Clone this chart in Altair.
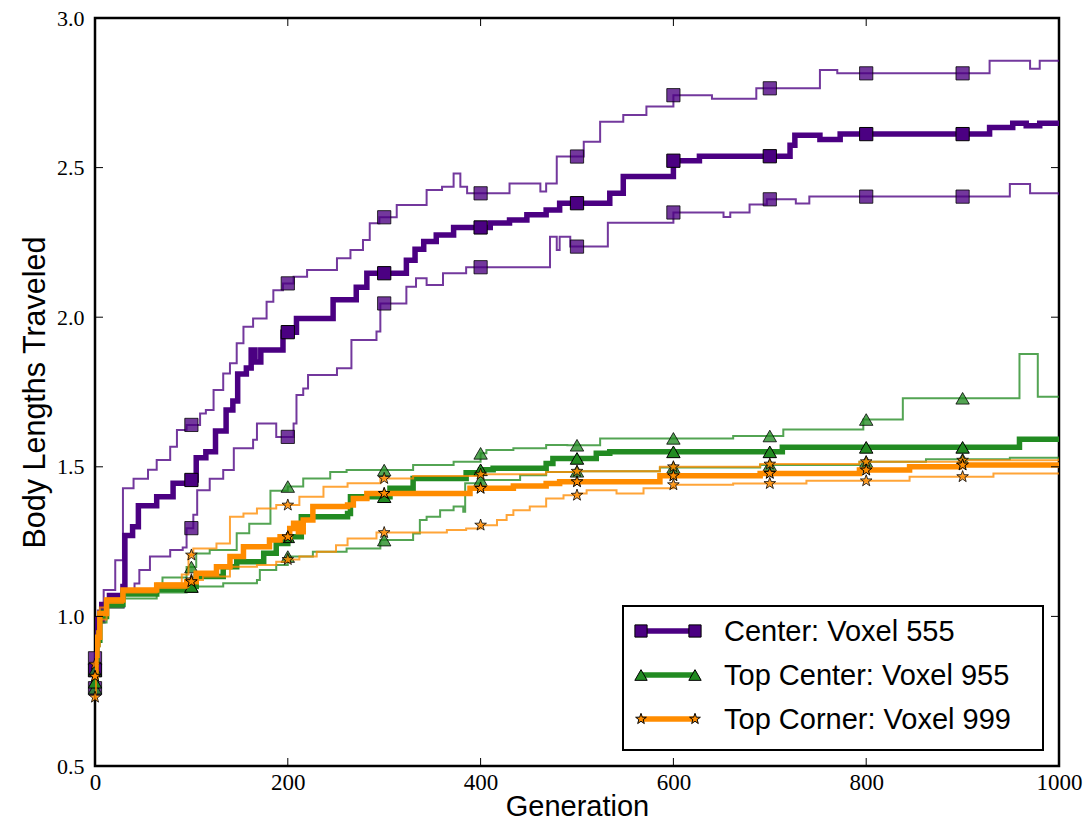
import altair as alt
import pandas as pd

# ---------------- data ----------------
X_TICKS = [0, 200, 400, 600, 800, 1000]
Y_TICKS = [0.5, 1.0, 1.5, 2.0, 2.5, 3.0]
MARK_GENS = [0, 100, 200, 300, 400, 500, 600, 700, 800, 900]

LABELS = ["Center: Voxel 555", "Top Center: Voxel 955", "Top Corner: Voxel 999"]

# Center: Voxel 555 (purple)
pm_gen = [0, 1, 3, 7, 15, 29, 31, 39, 45, 64, 81, 100, 105, 115, 125, 136, 143, 148, 157, 162,
          166, 172, 195, 209, 247, 271, 282, 323, 332, 341, 354, 372, 410, 430, 448, 468, 482,
          534, 548, 600, 627, 721, 726, 752, 773, 928, 952, 966, 980, 1000]
pm_val = [0.82, 0.93, 0.99, 1.04, 1.07, 1.10, 1.27, 1.30, 1.37, 1.40, 1.445, 1.456, 1.53, 1.55,
          1.62, 1.69, 1.72, 1.81, 1.83, 1.89, 1.85, 1.89, 1.95, 1.996, 2.058, 2.10, 2.147, 2.19,
          2.227, 2.253, 2.275, 2.30, 2.315, 2.325, 2.342, 2.358, 2.381, 2.414, 2.47, 2.523,
          2.538, 2.575, 2.608, 2.594, 2.612, 2.634, 2.648, 2.64, 2.648, 2.648]
pu_gen = [0, 1, 3, 9, 21, 29, 40, 55, 64, 78, 85, 95, 109, 115, 123, 133, 140, 147, 154, 164,
          178, 185, 195, 206, 220, 251, 265, 278, 285, 295, 313, 344, 360, 372, 379, 386, 430,
          462, 468, 479, 507, 524, 548, 572, 600, 640, 686, 752, 770, 928, 970, 980, 1000]
pu_val = [0.86, 0.95, 1.02, 1.088, 1.188, 1.428, 1.46, 1.49, 1.523, 1.567, 1.623, 1.64, 1.678,
          1.69, 1.757, 1.812, 1.846, 1.913, 1.968, 1.996, 2.052, 2.09, 2.113, 2.135, 2.158,
          2.197, 2.225, 2.258, 2.314, 2.334, 2.375, 2.425, 2.436, 2.48, 2.436, 2.414, 2.447,
          2.42, 2.447, 2.537, 2.586, 2.653, 2.676, 2.704, 2.742, 2.73, 2.765, 2.826, 2.815,
          2.857, 2.83, 2.857, 2.857]
pl_gen = [0, 1, 3, 10, 30, 41, 46, 57, 78, 91, 95, 102, 106, 119, 133, 144, 164, 168, 188, 206,
          209, 216, 221, 251, 266, 292, 296, 323, 333, 344, 361, 385, 472, 479, 482, 493, 532,
          600, 652, 659, 679, 697, 727, 741, 949, 970, 1000]
pl_val = [0.76, 0.9, 0.98, 1.03, 1.08, 1.11, 1.155, 1.2, 1.222, 1.23, 1.295, 1.34, 1.422, 1.46,
          1.489, 1.562, 1.59, 1.645, 1.60, 1.645, 1.74, 1.762, 1.807, 1.829, 1.924, 1.952,
          2.046, 2.102, 2.13, 2.108, 2.147, 2.167, 2.269, 2.225, 2.269, 2.236, 2.316, 2.35,
          2.335, 2.35, 2.377, 2.394, 2.38, 2.403, 2.445, 2.414, 2.408]

# Top Center: Voxel 955 (green)
gm_gen = [0, 1, 2, 5, 12, 29, 64, 95, 105, 133, 147, 175, 188, 200, 214, 262, 265, 306, 330,
          385, 400, 413, 468, 475, 520, 534, 713, 959, 1000]
gm_val = [0.78, 0.85, 0.92, 1.0, 1.04, 1.075, 1.09, 1.1, 1.133, 1.166, 1.183, 1.211, 1.244,
          1.266, 1.333, 1.344, 1.40, 1.428, 1.461, 1.48, 1.49, 1.495, 1.511, 1.528, 1.545, 1.55,
          1.565, 1.592, 1.595]
gu_gen = [0, 1, 2, 5, 12, 29, 64, 70, 95, 105, 119, 147, 160, 182, 200, 216, 244, 261, 330,
          372, 400, 406, 434, 468, 490, 524, 662, 714, 797, 838, 959, 978, 1000]
gu_val = [0.82, 0.9, 0.95, 1.02, 1.055, 1.085, 1.1, 1.13, 1.165, 1.21, 1.222, 1.278, 1.31,
          1.42, 1.434, 1.461, 1.483, 1.489, 1.506, 1.517, 1.545, 1.556, 1.562, 1.573, 1.572,
          1.595, 1.603, 1.625, 1.658, 1.729, 1.877, 1.734, 1.734]
gl_gen = [0, 1, 2, 5, 12, 29, 64, 95, 133, 168, 171, 188, 200, 226, 261, 296, 330, 337, 344,
          358, 372, 382, 384, 400, 441, 468, 496, 586, 690, 793, 862, 949, 1000]
gl_val = [0.76, 0.84, 0.9, 0.98, 1.03, 1.06, 1.08, 1.10, 1.111, 1.122, 1.155, 1.172, 1.2,
          1.216, 1.227, 1.255, 1.277, 1.322, 1.333, 1.355, 1.367, 1.35, 1.445, 1.456, 1.472,
          1.483, 1.485, 1.498, 1.506, 1.517, 1.525, 1.53, 1.528]

# Top Corner: Voxel 999 (orange)
om_gen = [0, 1, 2, 5, 12, 29, 64, 95, 105, 126, 140, 154, 181, 192, 202, 206, 211, 216, 226,
          262, 268, 282, 389, 434, 468, 482, 586, 690, 793, 845, 897, 1000]
om_val = [0.80, 0.87, 0.93, 1.01, 1.055, 1.088, 1.105, 1.116, 1.144, 1.166, 1.2, 1.233, 1.255,
          1.266, 1.294, 1.311, 1.283, 1.322, 1.367, 1.372, 1.394, 1.411, 1.428, 1.436, 1.444,
          1.45, 1.47, 1.478, 1.489, 1.50, 1.506, 1.51]
ou_gen = [0, 1, 2, 5, 12, 29, 64, 90, 97, 102, 126, 140, 154, 168, 188, 212, 237, 262, 296,
          330, 400, 468, 496, 586, 690, 793, 897, 1000]
ou_val = [0.84, 0.9, 0.95, 1.03, 1.06, 1.09, 1.11, 1.14, 1.205, 1.227, 1.244, 1.333, 1.344,
          1.361, 1.372, 1.40, 1.433, 1.445, 1.461, 1.469, 1.475, 1.483, 1.485, 1.50, 1.509,
          1.517, 1.522, 1.528]
ol_gen = [0, 1, 2, 5, 12, 29, 64, 95, 112, 140, 168, 188, 200, 212, 230, 250, 262, 292, 365,
          385, 400, 417, 427, 434, 451, 468, 486, 503, 510, 541, 569, 600, 662, 738, 845, 932,
          1000]
ol_val = [0.73, 0.82, 0.9, 0.99, 1.045, 1.08, 1.095, 1.122, 1.133, 1.166, 1.172, 1.183, 1.19,
          1.2, 1.216, 1.238, 1.26, 1.28, 1.289, 1.294, 1.305, 1.322, 1.339, 1.355, 1.367,
          1.394, 1.405, 1.411, 1.422, 1.411, 1.428, 1.44, 1.444, 1.453, 1.467, 1.478, 1.48]

# ---------------- styling ----------------
W, H = 964, 748
PURPLE, GREEN, ORANGE = "#4B0082", "#228B22", "#FF8C00"
THIN_ALPHA = 0.78
SANS = "Liberation Sans"
SERIF = "Liberation Serif"
STAR = ("M0,-1L0.235,-0.324L0.951,-0.309L0.38,0.124L0.588,0.809L0,0.4L-0.588,0.809"
        "L-0.38,0.124L-0.951,-0.309L-0.235,-0.324Z")

xs = alt.Scale(domain=[0, 1000], nice=False, zero=False)
ys = alt.Scale(domain=[0.5, 3.0], nice=False, zero=False)
xaxis = alt.Axis(values=X_TICKS, format="d", title="Generation", orient="bottom", domain=False,
                 ticks=False, tickSize=0, grid=False, labelFont=SERIF, labelFontSize=23,
                 labelColor="black", labelPadding=5, labelFlush=False, titleFont=SANS,
                 titleFontSize=29, titleFontWeight="normal", titleColor="black", titleY=40,
                 titleBaseline="middle")
yaxis = alt.Axis(values=Y_TICKS, format=".1f", title="Body Lengths Traveled", orient="left",
                 domain=False, ticks=False, tickSize=0, grid=False, labelFont=SERIF,
                 labelFontSize=22, labelColor="black", labelPadding=11, labelFlush=False,
                 titleFont=SANS, titleFontSize=30.5, titleFontWeight="normal",
                 titleColor="black", titleX=-60, titleY=H / 2, titleBaseline="middle",
                 titleAngle=-90)


def X():
    return alt.X("gen:Q", scale=xs, axis=xaxis)


def Y():
    return alt.Y("val:Q", scale=ys, axis=yaxis)


def step_at(gens, vals, g):
    v = vals[0]
    for gg, vv in zip(gens, vals):
        if gg <= g:
            v = vv
    return v


def series_layers(gens, vals, color, shape, size, thick):
    df = pd.DataFrame({"gen": gens, "val": vals})
    mk = pd.DataFrame({"gen": MARK_GENS, "val": [step_at(gens, vals, g) for g in MARK_GENS]})
    alpha = 1.0 if thick else THIN_ALPHA
    line = alt.Chart(df).mark_line(interpolate="step-after", color=color,
                                   strokeWidth=5.5 if thick else 2.0,
                                   opacity=alpha, clip=True).encode(x=X(), y=Y())
    pts = alt.Chart(mk).mark_point(shape=shape, filled=True, fill=color, stroke="black",
                                   strokeWidth=1, size=size, fillOpacity=alpha,
                                   strokeOpacity=alpha, opacity=1).encode(x=X(), y=Y())
    return [line, pts]


groups = [
    (PURPLE, "square", 175, (pu_gen, pu_val), (pl_gen, pl_val), (pm_gen, pm_val)),
    (GREEN, "triangle-up", 180, (gu_gen, gu_val), (gl_gen, gl_val), (gm_gen, gm_val)),
    (ORANGE, STAR, 150, (ou_gen, ou_val), (ol_gen, ol_val), (om_gen, om_val)),
]

layers = []
for color, shape, size, up, lo, mean in groups:
    layers += series_layers(up[0], up[1], color, shape, size, False)
    layers += series_layers(lo[0], lo[1], color, shape, size, False)
    layers += series_layers(mean[0], mean[1], color, shape, size, True)

# inward ticks on all four sides
xt = pd.DataFrame({"gen": X_TICKS})
yt = pd.DataFrame({"val": Y_TICKS})
tick_style = dict(color="black", strokeWidth=1)
layers.append(alt.Chart(xt).mark_rule(**tick_style).encode(x=X(), y=alt.value(H), y2=alt.value(H - 8)))
layers.append(alt.Chart(xt).mark_rule(**tick_style).encode(x=X(), y=alt.value(0), y2=alt.value(8)))
layers.append(alt.Chart(yt).mark_rule(**tick_style).encode(y=Y(), x=alt.value(0), x2=alt.value(8)))
layers.append(alt.Chart(yt).mark_rule(**tick_style).encode(y=Y(), x=alt.value(W), x2=alt.value(W - 8)))

# legend box
one = pd.DataFrame({"k": [0]})
LX0, LX1, LY0, LY1 = 528, 948, 588, 732
layers.append(alt.Chart(one).mark_rect(fill="white", stroke="black", strokeWidth=2).encode(
    x=alt.value(LX0), x2=alt.value(LX1), y=alt.value(LY0), y2=alt.value(LY1)))
rows_y = [613, 657, 701]
for (color, shape, size, *_), label, ry in zip(groups, LABELS, rows_y):
    layers.append(alt.Chart(one).mark_rule(color=color, strokeWidth=5.5).encode(
        x=alt.value(546), x2=alt.value(600), y=alt.value(ry)))
    for px in (546, 600):
        layers.append(alt.Chart(one).mark_point(shape=shape, filled=True, fill=color,
                                                stroke="black", strokeWidth=1,
                                                size=size * 0.85, opacity=1).encode(
            x=alt.value(px), y=alt.value(ry)))
    layers.append(alt.Chart(one).mark_text(text=label, align="left", baseline="middle",
                                           font=SANS, fontSize=29, color="black").encode(
        x=alt.value(629), y=alt.value(ry + 1)))

chart = alt.layer(*layers).properties(
    width=W, height=H,
    background="white",
    autosize=alt.AutoSizeParams(type="none"),
    padding={"left": 87, "top": 10, "right": 24, "bottom": 54},
).configure_view(stroke="black", strokeWidth=2.5)

chart.save("out.html", embed_options={"renderer": "svg", "actions": False})
